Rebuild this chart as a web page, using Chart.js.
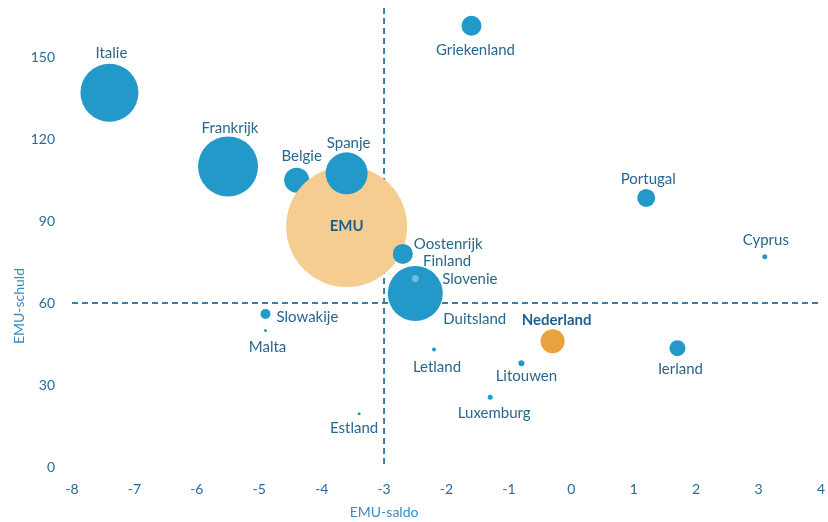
<!DOCTYPE html>
<html>
<head>
<meta charset="utf-8">
<script src="https://cdn.jsdelivr.net/npm/chart.js@4.4.1/dist/chart.umd.min.js"></script>
<style>
  html, body { margin: 0; padding: 0; background: #fff; }
</style>
</head>
<body>
<canvas id="emuChart" width="828" height="522"></canvas>
<script>
// EMU-saldo (x) tegen EMU-schuld (y), bolgrootte = omvang economie
const landen  = ['Italie', 'Frankrijk', 'Belgie', 'EMU', 'Spanje', 'Oostenrijk', 'Finland', 'Duitsland', 'Slovenie',
                 'Griekenland', 'Portugal', 'Cyprus', 'Slowakije', 'Malta', 'Estland', 'Letland', 'Litouwen',
                 'Luxemburg', 'Nederland', 'Ierland'];
const saldo   = [-7.4, -5.5, -4.4, -3.6, -3.6, -2.7, -2.6, -2.5, -2.5,
                 -1.6, 1.2, 3.1, -4.9, -4.9, -3.4, -2.2, -0.8,
                 -1.3, -0.3, 1.7];
const schuld  = [137, 110, 105, 88, 107.5, 78, 66, 63.5, 69,
                 161.5, 98.5, 77, 56, 50, 19.5, 43, 38,
                 25.5, 46, 43.5];
const omvang  = [29, 30, 12.5, 60.5, 21, 10, 3, 27.5, 3.5,
                 10, 9, 2.5, 5, 1.5, 1.5, 2, 3,
                 2.5, 12, 8];

const xTicks = [-8, -7, -6, -5, -4, -3, -2, -1, 0, 1, 2, 3, 4];
const yTicks = [0, 30, 60, 90, 120, 150];
const saldoNorm = -3;
const schuldNorm = 60;

const BLAUW = '#2399c9';
const kleuren = landen.map(l => {
  if (l === 'EMU') return '#f5cd90';
  if (l === 'Nederland') return '#e8a23e';
  if (l === 'Slovenie') return '#6cbedd';
  return BLAUW;
});

// label plaatsing t.o.v. middelpunt bol: [dx, dy, align]
const labelPlek = {
  Italie: [2, -40, 'center'],
  Frankrijk: [2, -38, 'center'],
  Belgie: [5, -24, 'center'],
  EMU: [0, 0, 'center'],
  Spanje: [2, -30, 'center'],
  Oostenrijk: [11, -10, 'left'],
  Finland: [14, -26, 'left'],
  Duitsland: [28, 26, 'left'],
  Slovenie: [27, 1, 'left'],
  Griekenland: [4, 24, 'center'],
  Portugal: [2, -19, 'center'],
  Cyprus: [1, -16, 'center'],
  Slowakije: [11, 3, 'left'],
  Malta: [2, 17, 'center'],
  Estland: [-5, 14, 'center'],
  Letland: [3, 18, 'center'],
  Litouwen: [5, 13, 'center'],
  Luxemburg: [4, 16, 'center'],
  Nederland: [4, -21, 'center'],
  Ierland: [3, 21, 'center']
};
const vetLabels = ['EMU', 'Nederland'];

const punten = landen.map((l, i) => ({ x: saldo[i], y: schuld[i], r: omvang[i] }));

const FONT = 'Lato, "Open Sans", sans-serif';

const hulplijnen = {
  id: 'hulplijnen',
  beforeDatasetsDraw(chart) {
    const { ctx, chartArea: a, scales: { x, y } } = chart;
    const px = x.getPixelForValue(saldoNorm);
    const py = y.getPixelForValue(schuldNorm);
    ctx.save();
    ctx.strokeStyle = '#3b7ba6';
    ctx.lineWidth = 2;
    ctx.setLineDash([6, 4]);
    ctx.beginPath();
    ctx.moveTo(px, a.top);
    ctx.lineTo(px, a.bottom);
    ctx.moveTo(a.left, py);
    ctx.lineTo(a.right, py);
    ctx.stroke();
    ctx.restore();
  }
};

const landLabels = {
  id: 'landLabels',
  afterDatasetsDraw(chart) {
    const ctx = chart.ctx;
    const meta = chart.getDatasetMeta(0);
    ctx.save();
    ctx.textBaseline = 'middle';
    landen.forEach((l, i) => {
      const el = meta.data[i];
      const [dx, dy, align] = labelPlek[l];
      const vet = vetLabels.includes(l);
      ctx.font = (vet ? 'bold ' : '') + '15px ' + FONT;
      ctx.fillStyle = vet ? '#1f5f8b' : '#2a678f';
      ctx.textAlign = align;
      ctx.fillText(l, el.x + dx, el.y + dy);
    });
    ctx.restore();
  }
};

const asTitels = {
  id: 'asTitels',
  afterDraw(chart) {
    const { ctx, scales: { x, y } } = chart;
    ctx.save();
    ctx.font = '14px ' + FONT;
    ctx.fillStyle = '#3a8cc0';
    ctx.textAlign = 'center';
    ctx.textBaseline = 'middle';
    ctx.fillText('EMU-saldo', x.getPixelForValue(saldoNorm), 512);
    ctx.translate(19, y.getPixelForValue(schuldNorm) + 3);
    ctx.rotate(-Math.PI / 2);
    ctx.fillText('EMU-schuld', 0, 0);
    ctx.restore();
  }
};

new Chart(document.getElementById('emuChart'), {
  type: 'bubble',
  data: {
    datasets: [{
      data: punten,
      backgroundColor: kleuren,
      borderWidth: 0,
      hoverBorderWidth: 0,
      hoverRadius: 0,
      clip: false
    }]
  },
  options: {
    responsive: false,
    animation: false,
    devicePixelRatio: 1,
    layout: { autoPadding: false, padding: { top: 8, right: 7, left: 0, bottom: 0 } },
    plugins: { legend: { display: false }, tooltip: { enabled: false } },
    scales: {
      x: {
        type: 'linear',
        min: xTicks[0],
        max: xTicks[xTicks.length - 1],
        afterBuildTicks: s => { s.ticks = xTicks.map(v => ({ value: v })); },
        afterFit: s => { s.height = 55; s.paddingLeft = 0; s.paddingRight = 0; },
        grid: { display: false, drawTicks: false },
        border: { display: false },
        ticks: { color: '#2a6b96', font: { family: FONT, size: 14 }, padding: 14, maxRotation: 0 }
      },
      y: {
        type: 'linear',
        min: 0,
        max: 168,
        afterBuildTicks: s => { s.ticks = yTicks.map(v => ({ value: v })); },
        afterFit: s => { s.width = 72; s.paddingTop = 0; s.paddingBottom = 0; },
        grid: { display: false, drawTicks: false },
        border: { display: false },
        ticks: { color: '#2a6b96', font: { family: FONT, size: 14 }, padding: 17 }
      }
    }
  },
  plugins: [hulplijnen, landLabels, asTitels]
});
</script>
</body>
</html>
